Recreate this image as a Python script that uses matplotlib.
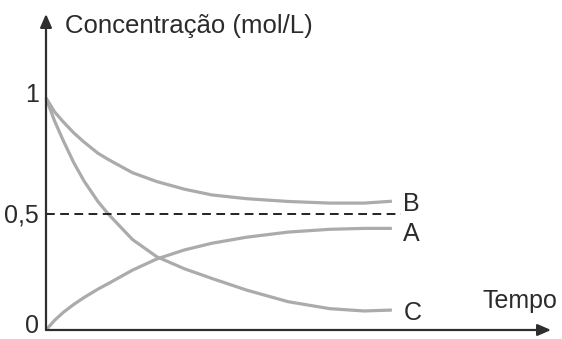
import matplotlib
matplotlib.use("Agg")
import matplotlib.pyplot as plt

# ---- data ----
t = [0, 0.25, 0.5, 0.8, 1.1, 1.5, 1.8, 2.5, 3.2, 4.0, 4.8, 5.8, 7.0, 8.2, 9.2, 10]
conc_B = [1.0, 0.94, 0.897, 0.85, 0.81, 0.762, 0.735, 0.678, 0.64, 0.607, 0.582, 0.566,
          0.554, 0.547, 0.547, 0.555]
conc_A = [0.0, 0.042, 0.076, 0.11, 0.14, 0.176, 0.2, 0.258, 0.306, 0.345, 0.374, 0.4,
          0.422, 0.434, 0.438, 0.438]
conc_C = [1.0, 0.9, 0.816, 0.722, 0.642, 0.554, 0.5, 0.39, 0.316, 0.264, 0.222, 0.172,
          0.122, 0.092, 0.082, 0.086]
ref_level = 0.5
ytick_vals = [1, 0.5, 0]
ytick_labels = ["1", "0,5", "0"]
series_labels = ["B", "A", "C"]
ylabel = "Concentração (mol/L)"
xlabel = "Tempo"

plt.rcParams['font.family'] = ['Liberation Sans', 'DejaVu Sans']

W, H = 562, 339
fig = plt.figure(figsize=(W / 100, H / 100), dpi=100)
fig.patch.set_facecolor('white')
ax = fig.add_axes([46 / W, 9 / H, 505 / W, 316 / H])
ax.set_xlim(0, 14.6)
ax.set_ylim(0, 1.362)
ax.axis('off')

axis_col = '#2e2e2e'
curve_col = '#ababab'
txt_col = '#2b2b2b'

# curves
for y in (conc_B, conc_A, conc_C):
    ax.plot(t, y, color=curve_col, lw=2.3, solid_capstyle='butt',
            solid_joinstyle='round', clip_on=False, zorder=2)

# dashed reference
ax.plot([0, 10.26], [ref_level, ref_level], color='#222222', lw=1.4,
        dashes=(4.5, 2.8), clip_on=False, zorder=3)

# axes with arrows
ax.annotate('', xy=(14.6, 0), xytext=(0, 0), annotation_clip=False,
            arrowprops=dict(arrowstyle='-|>,head_length=0.8,head_width=0.35',
                            color=axis_col, lw=1.6, shrinkA=0, shrinkB=0))
ax.annotate('', xy=(0, 1.362), xytext=(0, 0), annotation_clip=False,
            arrowprops=dict(arrowstyle='-|>,head_length=0.8,head_width=0.35',
                            color=axis_col, lw=1.6, shrinkA=0, shrinkB=0))

fs = 18
# y tick labels
tick_baselines = [0.984, 0.4625, -0.012]
for v, lab, yb in zip(ytick_vals, ytick_labels, tick_baselines):
    ax.text(-0.2, yb, lab, ha='right', va='baseline', fontsize=fs, color=txt_col, clip_on=False)

# series labels
label_base = [0.513, 0.385, 0.043]
for lab, yb in zip(series_labels, label_base):
    ax.text(10.33, yb, lab, ha='left', va='baseline', fontsize=fs, color=txt_col)

ax.text(0.55, 1.28, ylabel, ha='left', va='baseline', fontsize=18.5, color=txt_col, clip_on=False)
ax.text(12.63, 0.095, xlabel, ha='left', va='baseline', fontsize=fs, color=txt_col, clip_on=False)

fig.savefig('out.png', dpi=100, facecolor='white')
